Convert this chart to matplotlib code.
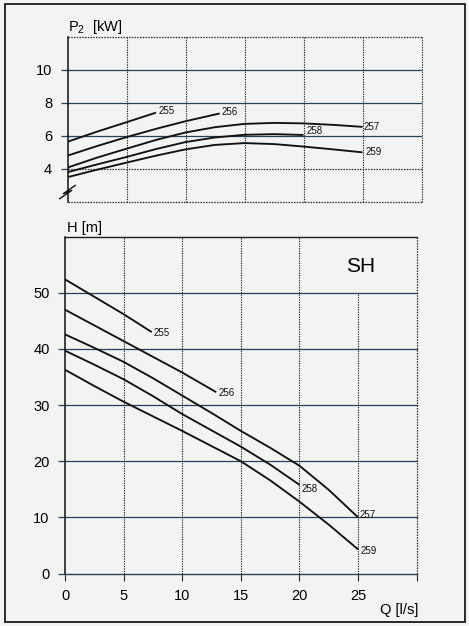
import matplotlib
matplotlib.use("Agg")
import matplotlib.pyplot as plt
from matplotlib.patches import Rectangle

plt.rcParams['font.family'] = ['Liberation Sans', 'DejaVu Sans']
plt.rcParams['mathtext.fontset'] = 'custom'
plt.rcParams['mathtext.rm'] = 'Liberation Sans'
plt.rcParams['mathtext.it'] = 'Liberation Sans'

# ---------------- data: power P2 [kW] vs Q [l/s] ----------------
p_names = ['255', '256', '257', '258', '259']
p_q_255 = [0, 2.5, 5, 7.5]
p_v_255 = [5.64, 6.25, 6.82, 7.4]
p_q_256 = [0, 2.5, 5, 7.5, 10, 12.9]
p_v_256 = [4.8, 5.38, 5.92, 6.42, 6.88, 7.35]
p_q_257 = [0, 2.5, 5, 7.5, 10, 12.5, 15, 17.5, 20, 22.5, 25]
p_v_257 = [4.08, 4.68, 5.22, 5.75, 6.2, 6.52, 6.72, 6.78, 6.75, 6.66, 6.54]
p_q_258 = [0, 2.5, 5, 7.5, 10, 12.5, 15, 17.5, 20]
p_v_258 = [3.8, 4.27, 4.72, 5.2, 5.62, 5.9, 6.06, 6.1, 6.05]
p_q_259 = [0, 2.5, 5, 7.5, 10, 12.5, 15, 17.5, 20, 22.5, 25]
p_v_259 = [3.5, 3.95, 4.38, 4.8, 5.18, 5.45, 5.56, 5.5, 5.35, 5.18, 5.0]

# ---------------- data: head H [m] vs Q [l/s] ----------------
h_q_255 = [0, 5, 7.4]
h_v_255 = [52.4, 46.2, 43.0]
h_q_256 = [0, 5, 10, 12.9]
h_v_256 = [47.0, 41.4, 35.8, 32.3]
h_q_257 = [0, 2.5, 5, 7.5, 10, 12.5, 15, 17.5, 20, 22.5, 25]
h_v_257 = [42.6, 40.2, 37.7, 34.8, 31.7, 28.6, 25.4, 22.4, 19.2, 14.9, 10.0]
h_q_258 = [0, 2.5, 5, 7.5, 10, 12.5, 15, 17.5, 20]
h_v_258 = [39.7, 37.2, 34.6, 31.6, 28.4, 25.5, 22.6, 19.4, 15.8]
h_q_259 = [0, 2.5, 5, 7.5, 10, 12.5, 15, 17.5, 20, 22.5, 25]
h_v_259 = [36.3, 33.4, 30.6, 28.0, 25.4, 22.7, 20.0, 16.6, 12.8, 8.7, 4.3]

p_ticks = [4, 6, 8, 10]
h_ticks = [0, 10, 20, 30, 40, 50]
q_ticks = [0, 5, 10, 15, 20, 25]

p_series = [(p_q_255, p_v_255), (p_q_256, p_v_256), (p_q_257, p_v_257),
            (p_q_258, p_v_258), (p_q_259, p_v_259)]
h_series = [(h_q_255, h_v_255), (h_q_256, h_v_256), (h_q_257, h_v_257),
            (h_q_258, h_v_258), (h_q_259, h_v_259)]

# label offsets in points (style only)
p_off = [(1.5, 1.5), (1.5, 1), (1, 0), (2, 3), (2, 0)]
h_off = [(1.5, -0.5), (1.5, -0.5), (1, 2), (1.5, -3), (1.5, -1.5)]

W, H = 469, 626
fig = plt.figure(figsize=(W / 100, H / 100), dpi=100)
fig.patch.set_facecolor('#f3f3f1')

# outer frame
fig.patches.append(Rectangle((5 / W, 4 / H), 460 / W, 618 / H, transform=fig.transFigure,
                             fill=False, edgecolor='#1a1a1a', linewidth=1.3))

hcol = '#27405a'
vcol = '#2a2a2a'
dotted = (0, (1.2, 1.0))

# ---------------- top panel ----------------
ax1 = fig.add_axes([67.5 / W, (H - 202) / H, 354 / W, (202 - 36.5) / H])
ax1.set_facecolor('none')
ax1.set_xlim(0, 30)
ax1.set_ylim(2, 12)
for s in ['top', 'right', 'bottom']:
    ax1.spines[s].set_visible(False)
ax1.spines['left'].set_linewidth(1.1)
ax1.spines['left'].set_color('#111111')
for y in [6, 8, 10]:
    ax1.axhline(y, color=hcol, lw=0.9, zorder=1)
for y in [2, 4, 12]:
    ax1.axhline(y, color=vcol, lw=0.9, ls=dotted, zorder=1, clip_on=False)
for x in [5, 10, 15, 20, 25, 30]:
    ax1.axvline(x, color=vcol, lw=0.8, ls=dotted, zorder=1, clip_on=False)
ax1.set_yticks(p_ticks)
ax1.set_yticklabels([str(t) for t in p_ticks])
ax1.set_xticks([])
ax1.tick_params(axis='y', length=5, width=0.9, color=hcol, pad=6, labelsize=10.5)
for (q, v), name, off in zip(p_series, p_names, p_off):
    ax1.plot(q, v, color='#111111', lw=1.35, zorder=3, solid_capstyle='butt',
             solid_joinstyle='round')
    ax1.annotate(name, (q[-1], v[-1]), xytext=off, textcoords='offset points',
                 ha='left', va='center', fontsize=7, color='#111111')
# axis break mark
ax1.plot([-0.022, 0.012, -0.012, 0.022], [0.02, 0.07, 0.05, 0.10],
         transform=ax1.transAxes, color='#111111', lw=1.0, clip_on=False)
fig.text(68 / W, 1 - 31 / H, r'P$_\mathrm{2}$  [kW]', fontsize=10.5, ha='left', va='baseline')

# ---------------- bottom panel ----------------
ax2 = fig.add_axes([65 / W, (H - 573.5) / H, 351.7 / W, (573.5 - 236.7) / H])
ax2.set_facecolor('none')
ax2.set_xlim(0, 30)
ax2.set_ylim(0, 60)
for s in ['top', 'right', 'bottom']:
    ax2.spines[s].set_visible(False)
ax2.spines['left'].set_linewidth(1.1)
ax2.spines['left'].set_color('#111111')
for y in [0, 10, 20, 30, 40, 50]:
    ax2.axhline(y, color=hcol, lw=1.0 if y == 0 else 0.9, zorder=1, clip_on=False)
ax2.axhline(60, color='#1a1a1a', lw=1.0, zorder=1, clip_on=False)
for x in [5, 10, 15, 20]:
    ax2.axvline(x, color=vcol, lw=0.8, ls=dotted, zorder=1)
ax2.axvline(25, ymin=0, ymax=50 / 60, color=vcol, lw=0.8, ls=dotted, zorder=1)
ax2.axvline(30, color=vcol, lw=0.9, ls=dotted, zorder=1, clip_on=False)
ax2.set_xticks(q_ticks + [30])
ax2.set_xticklabels([str(t) for t in q_ticks] + [''])
ax2.set_yticks(h_ticks)
ax2.set_yticklabels([str(t) for t in h_ticks])
ax2.tick_params(axis='y', length=5, width=0.9, color=hcol, pad=6, labelsize=10.5)
ax2.tick_params(axis='x', length=5, width=0.8, color=vcol, pad=6, labelsize=10.5)
for (q, v), name, off in zip(h_series, p_names, h_off):
    ax2.plot(q, v, color='#111111', lw=1.35, zorder=3, solid_capstyle='butt',
             solid_joinstyle='round')
    ax2.annotate(name, (q[-1], v[-1]), xytext=off, textcoords='offset points',
                 ha='left', va='center', fontsize=7, color='#111111')
fig.text(67 / W, 1 - 232 / H, 'H [m]', fontsize=10.5, ha='left', va='baseline')
fig.text(418 / W, 1 - 614 / H, 'Q [l/s]', fontsize=10.5, ha='right', va='baseline')
ax2.text(361 / W, 1 - 267 / H, 'SH', transform=fig.transFigure, fontsize=15,
         ha='center', va='center')

fig.savefig('out.png', dpi=100, facecolor=fig.get_facecolor())
